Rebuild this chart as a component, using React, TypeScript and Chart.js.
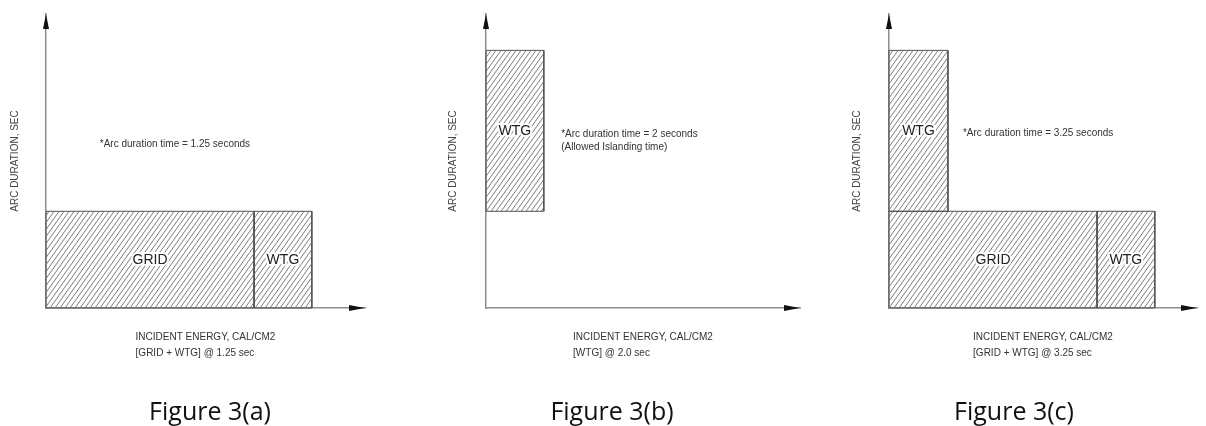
import React, { useEffect, useRef } from "react";
import { Chart, registerables } from "chart.js";

Chart.register(...registerables);

// ---------- data ----------
const figureCaptions = ["Figure 3(a)", "Figure 3(b)", "Figure 3(c)"];
const yAxisTitle = "ARC DURATION, SEC";
const xAxisTitle = "INCIDENT ENERGY, CAL/CM2";
const xAxisSubtitles = ["[GRID + WTG] @ 1.25 sec", "[WTG] @ 2.0 sec", "[GRID + WTG] @ 3.25 sec"];

const noteLines = [
  ["*Arc duration time = 1.25 seconds"],
  ["*Arc duration time = 2 seconds", "(Allowed Islanding time)"],
  ["*Arc duration time = 3.25 seconds"],
];
const noteX = [0.93, 1.3, 1.28];
const noteY = [2.12, 2.24, 2.26];

const blockLabels = [["GRID", "WTG"], ["WTG"], ["WTG", "GRID", "WTG"]];
const blockStart = [[0, 3.6], [0], [0, 0, 3.6]];
const blockEnd = [[3.6, 4.6], [1.0], [1.02, 3.6, 4.6]];
const blockBottom = [[0, 0], [1.25], [1.25, 0, 0]];
const blockTop = [[1.25, 1.25], [3.33], [3.33, 1.25, 1.25]];

const xAxisMax = [5.52, 5.43, 5.33];
const yAxisMax = [3.8, 3.8, 3.8];

// ---------- layout / style ----------
const PANEL_LEFT = [0, 402, 804];
const PANEL_WIDTH = [402, 402, 402];
const PANEL_HEIGHT = 426;
const Y_AXIS_BOX = [46, 84, 85];
const RIGHT_PAD = [37, 4, 9];
const Y_TITLE_PAD = [9, 45, 47];
const X_AXIS_BOX = 118;
const TOP_PAD = 14;
const SMALL_FONT = '"Liberation Sans", Arial, sans-serif';
const AXIS_COLOR = "#8e8e8e";
const EDGE_COLOR = "#505050";

function makeHatch(): CanvasPattern | string {
  const c = document.createElement("canvas");
  const w = 5;
  const h = 7;
  c.width = w;
  c.height = h;
  const g = c.getContext("2d");
  if (!g) return "#cccccc";
  g.strokeStyle = "#6e6e6e";
  g.lineWidth = 0.9;
  for (const dx of [-w, 0, w]) {
    g.beginPath();
    g.moveTo(dx, h);
    g.lineTo(dx + w, 0);
    g.stroke();
  }
  return g.createPattern(c, "repeat") || "#cccccc";
}

function overlayPlugin(i: number) {
  return {
    id: "overlay" + i,
    afterDraw(chart: any) {
      const { ctx, chartArea: ca, scales } = chart;
      const x = scales.x;
      const y = scales.y;
      ctx.save();

      // arrows
      ctx.fillStyle = "#111";
      ctx.beginPath();
      ctx.moveTo(ca.right, ca.bottom);
      ctx.lineTo(ca.right - 16, ca.bottom - 3);
      ctx.lineTo(ca.right - 16, ca.bottom + 3);
      ctx.closePath();
      ctx.fill();
      ctx.beginPath();
      ctx.moveTo(ca.left, ca.top);
      ctx.lineTo(ca.left - 3, ca.top + 15);
      ctx.lineTo(ca.left + 3, ca.top + 15);
      ctx.closePath();
      ctx.fill();

      // block labels
      ctx.font = "14px " + SMALL_FONT;
      ctx.textAlign = "center";
      ctx.textBaseline = "middle";
      ctx.lineJoin = "round";
      blockLabels[i].forEach((lab, k) => {
        const cx = x.getPixelForValue((blockStart[i][k] + blockEnd[i][k]) / 2);
        const cy = y.getPixelForValue((blockBottom[i][k] + blockTop[i][k]) / 2);
        ctx.lineWidth = 4;
        ctx.strokeStyle = "#ffffff";
        ctx.strokeText(lab, cx, cy);
        ctx.fillStyle = "#222";
        ctx.fillText(lab, cx, cy);
      });

      // notes
      ctx.font = "10px " + SMALL_FONT;
      ctx.textAlign = "left";
      ctx.fillStyle = "#333";
      const nx = x.getPixelForValue(noteX[i]);
      const ny = y.getPixelForValue(noteY[i]);
      noteLines[i].forEach((t, k) => ctx.fillText(t, nx, ny + k * 13));

      // x axis captions
      const mid = (ca.left + ca.right) / 2;
      const w1 = ctx.measureText(xAxisTitle).width;
      ctx.fillText(xAxisTitle, mid - w1 / 2, ca.bottom + 29);
      ctx.fillText(xAxisSubtitles[i], mid - w1 / 2, ca.bottom + 45);

      // figure caption
      ctx.font = '25px "Open Sans", "Noto Sans", sans-serif';
      ctx.textAlign = "center";
      ctx.textBaseline = "alphabetic";
      ctx.fillStyle = "#111";
      ctx.fillText(figureCaptions[i], 210, 420);

      ctx.restore();
    },
  };
}

function Panel({ i }: { i: number }) {
  const ref = useRef<HTMLCanvasElement>(null);
  useEffect(() => {
    const canvas = ref.current;
    if (!canvas) return;
    const hatch = makeHatch();
    const datasets: any[] = [];
    blockLabels[i].forEach((_, k) => {
      const x0 = blockStart[i][k];
      const x1 = blockEnd[i][k];
      const y0 = blockBottom[i][k];
      const y1 = blockTop[i][k];
      datasets.push({
        data: [
          { x: x0, y: y0 },
          { x: x0, y: y1 },
          { x: x1, y: y1 },
          { x: x1, y: y0 },
        ],
        showLine: true,
        fill: { value: y0 },
        backgroundColor: hatch,
        borderColor: "rgba(0,0,0,0)",
        borderWidth: 1,
        pointRadius: 0,
        tension: 0,
      });
      datasets.push({
        data: [
          { x: x0, y: y0 },
          { x: x0, y: y1 },
          { x: x1, y: y1 },
          { x: x1, y: y0 },
          { x: x0, y: y0 },
        ],
        showLine: true,
        fill: false,
        borderColor: EDGE_COLOR,
        borderWidth: 1,
        pointRadius: 0,
        tension: 0,
        clip: false,
      });
    });

    const chart = new Chart(canvas, {
      type: "scatter",
      data: { datasets },
      options: {
        animation: false,
        responsive: false,
        events: [],
        layout: { padding: { top: TOP_PAD, right: RIGHT_PAD[i], bottom: 0, left: 0 } },
        plugins: { legend: { display: false }, tooltip: { enabled: false } },
        scales: {
          x: {
            type: "linear",
            min: 0,
            max: xAxisMax[i],
            grid: { display: false, drawTicks: false },
            ticks: { display: false },
            border: { display: true, color: AXIS_COLOR, width: 1.5 },
            title: { display: false },
            afterFit: (s: any) => {
              s.height = X_AXIS_BOX;
            },
          },
          y: {
            type: "linear",
            min: 0,
            max: yAxisMax[i],
            grid: { display: false, drawTicks: false },
            ticks: { display: false },
            border: { display: true, color: AXIS_COLOR, width: 1.5 },
            title: {
              display: true,
              text: yAxisTitle,
              color: "#444",
              font: { family: SMALL_FONT, size: 10 },
              padding: { top: Y_TITLE_PAD[i], bottom: 0 },
            },
            afterFit: (s: any) => {
              s.width = Y_AXIS_BOX[i];
            },
          },
        },
      } as any,
      plugins: [overlayPlugin(i)],
    });
    return () => chart.destroy();
  }, [i]);

  return (
    <canvas
      ref={ref}
      width={PANEL_WIDTH[i]}
      height={PANEL_HEIGHT}
      style={{ position: "absolute", left: PANEL_LEFT[i], top: 0 }}
    />
  );
}

export default function App() {
  return (
    <div style={{ position: "absolute", left: 0, top: 0, width: 1206, height: 426, background: "#fff" }}>
      {[0, 1, 2].map((i) => (
        <Panel key={i} i={i} />
      ))}
    </div>
  );
}
